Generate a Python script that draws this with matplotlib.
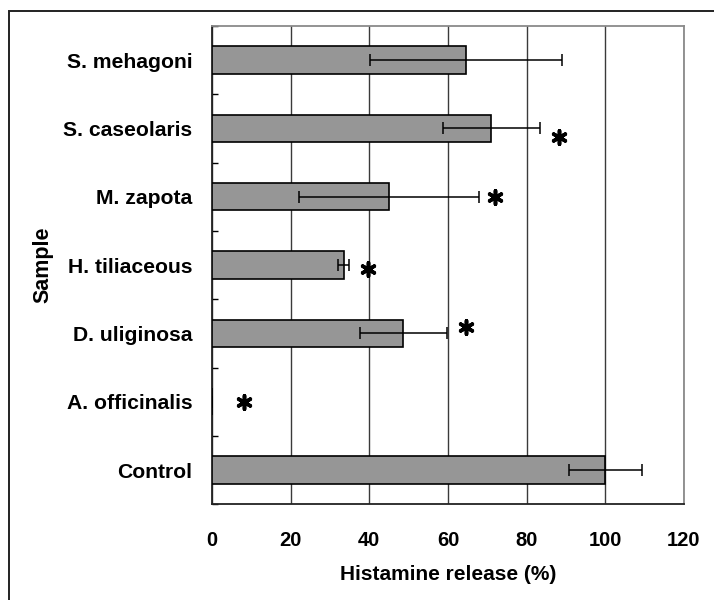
import numpy as np
import matplotlib
matplotlib.use('Agg')
import matplotlib.pyplot as plt
from matplotlib.patches import Rectangle

# data (top to bottom)
samples = ['S. mehagoni', 'S. caseolaris', 'M. zapota', 'H. tiliaceous',
           'D. uliginosa', 'A. officinalis', 'Control']
release = [64.5, 71.0, 45.1, 33.5, 48.6, 0.0, 100.0]
release_err = [24.4, 12.3, 22.9, 1.4, 11.1, 0.0, 9.2]

# significance markers: x position (%) and small vertical offset (category units)
sig_rows = [1, 2, 3, 4, 5]
sig_x = [88.2, 72.0, 39.6, 64.7, 8.2]
sig_dy = [0.12, 0.0, 0.05, -0.09, 0.0]

x_ticks = [0, 20, 40, 60, 80, 100, 120]


def setup_style():
    plt.rcParams.update({
        'font.family': ['Liberation Sans', 'DejaVu Sans'],
        'font.weight': 'bold',
        'axes.labelweight': 'bold',
    })


def main():
    setup_style()
    fig = plt.figure(figsize=(7.14, 6.0), dpi=100)
    ax = fig.add_axes([212 / 714, 1 - 504.3 / 600, 472 / 714, 478.3 / 600])

    y = np.arange(len(samples))
    ax.barh(y, release, height=0.4, color='#969696', edgecolor='black',
            linewidth=1.2, zorder=3)
    ax.errorbar(release, y, xerr=release_err, fmt='none', ecolor='black',
                elinewidth=1.1, capsize=4.5, capthick=1.1, zorder=4)

    ys = [r + d for r, d in zip(sig_rows, sig_dy)]
    ax.scatter(sig_x, ys, marker=(6, 2, 0), s=95, color='black',
               linewidths=2.6, zorder=5)

    ax.set_xlim(0, 120)
    ax.set_ylim(len(samples) - 0.5, -0.5)
    ax.set_xticks(x_ticks)
    ax.set_xticklabels([str(t) for t in x_ticks], fontsize=14.5)
    ax.tick_params(axis='x', length=0, pad=19)
    ax.xaxis.grid(True, color='#3a3a3a', linewidth=1.0, zorder=0)
    ax.set_axisbelow(True)

    ax.set_yticks(y)
    ax.set_yticklabels(samples, fontsize=15.2)
    ax.tick_params(axis='y', length=0, pad=14)
    ax.set_yticks(np.arange(-0.5, len(samples)), minor=True)
    ax.tick_params(axis='y', which='minor', direction='in', length=4.5,
                   width=1.0, color='black')

    ax.set_xlabel('Histamine release (%)', fontsize=15, labelpad=11)
    ax.set_ylabel('Sample', fontsize=15.5, labelpad=7)

    for side in ['top', 'right']:
        ax.spines[side].set_color('#8a8a8a')
    for side in ['left', 'bottom']:
        ax.spines[side].set_color('#222222')
    for s in ax.spines.values():
        s.set_linewidth(1.3)

    # outer frame, partly cut by the canvas edge
    frame = Rectangle((9 / 714, -0.05), 1.1, 1 - 11 / 600 + 0.05,
                      transform=fig.transFigure, fill=False,
                      edgecolor='#222222', linewidth=1.4, clip_on=False)
    fig.patches.append(frame)

    fig.savefig('out.png', dpi=100)
    plt.close(fig)


if __name__ == '__main__':
    main()
